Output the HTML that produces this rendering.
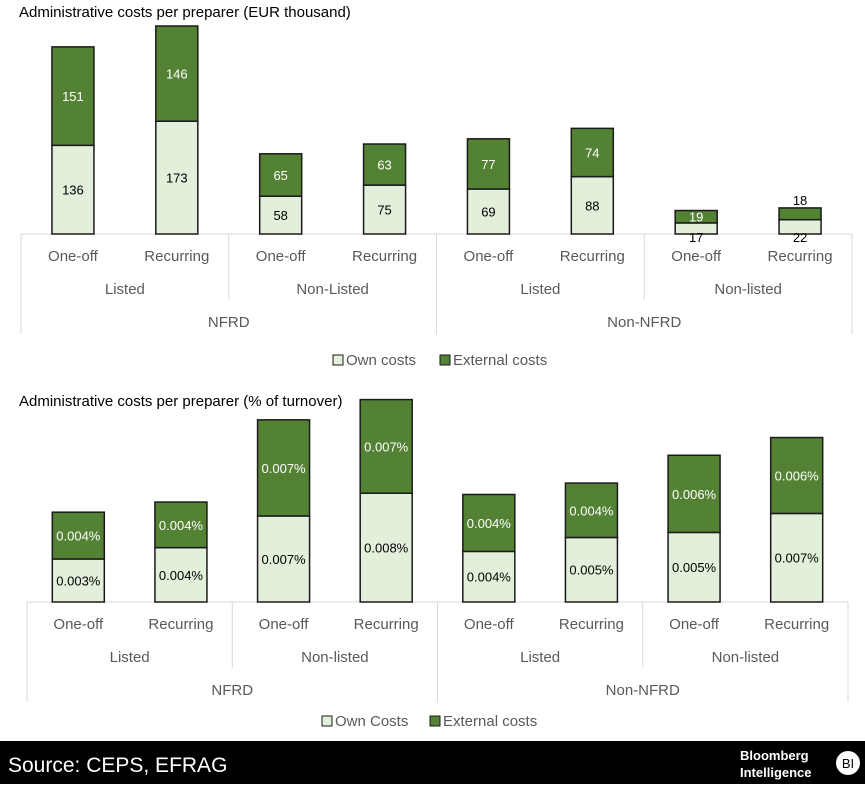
<!DOCTYPE html>
<html><head><meta charset="utf-8"><style>
body{margin:0;width:865px;height:784px;background:#fff;overflow:hidden;font-family:"Liberation Sans",sans-serif}
svg text{font-family:"Liberation Sans",sans-serif}
</style></head><body>
<svg id="s" width="865" height="784">
<text x="19" y="17" font-size="15" fill="#000">Administrative costs per preparer (EUR thousand)</text>
<text x="19" y="406" font-size="15" fill="#000">Administrative costs per preparer (% of turnover)</text>
<rect x="0" y="741" width="865" height="43" fill="#000"/>
<text x="8" y="772" font-size="21" fill="#fff">Source:  CEPS, EFRAG</text>
<text x="740" y="760" font-size="13" font-weight="bold" fill="#fff">Bloomberg</text>
<text x="740" y="777" font-size="13" font-weight="bold" fill="#fff">Intelligence</text>
<circle cx="848" cy="763" r="12" fill="#fff"/>
<text x="848" y="768" font-size="13" text-anchor="middle" fill="#000">BI</text>
</svg>
<script>
const topOwn=[136,173,58,75,69,88,17,22];
const topExt=[151,146,65,63,77,74,19,18];
const topOwnLabels=["136","173","58","75","69","88","17","22"];
const topExtLabels=["151","146","65","63","77","74","19","18"];
const botOwn=[0.0034,0.0043,0.0068,0.0086,0.0040,0.0051,0.0055,0.0070];
const botExt=[0.0037,0.0036,0.0076,0.0074,0.0045,0.0043,0.0061,0.0060];
const botOwnLabels=["0.003%","0.004%","0.007%","0.008%","0.004%","0.005%","0.005%","0.007%"];
const botExtLabels=["0.004%","0.004%","0.007%","0.007%","0.004%","0.004%","0.006%","0.006%"];
const cats=["One-off","Recurring","One-off","Recurring","One-off","Recurring","One-off","Recurring"];
const subTop=["Listed","Non-Listed","Listed","Non-listed"];
const subBot=["Listed","Non-listed","Listed","Non-listed"];
const groups=["NFRD","Non-NFRD"];
const svg=document.getElementById('s');
const NS="http://www.w3.org/2000/svg";
function mk(t,a,txt){const e=document.createElementNS(NS,t);for(const k in a)e.setAttribute(k,a[k]);if(txt!=null)e.textContent=txt;svg.appendChild(e);return e;}
function chart(o){
  const L=o.left,R=o.right,base=o.base,n=8,step=(R-L)/n;
  const x=i=>L+step*(i+0.5);
  const y=v=>base-v*o.scale;
  const grey="#d9d9d9";
  let e=mk('line',{x1:L,x2:R,y1:base,y2:base,stroke:grey});
  
  const bounds=[0,2,4,6,8];
  bounds.forEach(b=>{const xx=L+step*b;const y2=(b==0||b==4||b==8)?base+100:base+66;
    e=mk('line',{x1:xx,x2:xx,y1:base,y2:y2,stroke:grey});
    });
  for(let i=0;i<n;i++){
    const oy=y(o.own[i]),ey=y(o.own[i]+o.ext[i]);
    e=mk('rect',{x:x(i)-o.bw/2,y:oy,width:o.bw,height:base-oy,fill:"#e2efda",stroke:"#1a1a1a","stroke-width":1.5});
    
    e=mk('rect',{x:x(i)-o.bw/2,y:ey,width:o.bw,height:oy-ey,fill:"#548235",stroke:"#1a1a1a","stroke-width":1.5});
    
    let ly=(oy+base)/2+5; if(base-oy<20) ly=base+8;
    e=mk('text',{x:x(i),y:ly,"font-size":13,"text-anchor":"middle",fill:"#000"},o.ownL[i]);
    
    const small=(oy-ey<12);
    let ey2=(ey+oy)/2+5; if(small) ey2=ey-3;
    e=mk('text',{x:x(i),y:ey2,"font-size":13,"text-anchor":"middle",fill:small?"#000":"#fff"},o.extL[i]);
    
    e=mk('text',{x:x(i),y:base+27,"font-size":15,"text-anchor":"middle",fill:"#595959"},cats[i]);
    
  }
  for(let j=0;j<4;j++){e=mk('text',{x:L+step*(2*j+1),y:base+60,"font-size":15,"text-anchor":"middle",fill:"#595959"},o.sub[j]);
    }
  for(let j=0;j<2;j++){e=mk('text',{x:L+step*(4*j+2),y:base+93,"font-size":15,"text-anchor":"middle",fill:"#595959"},groups[j]);
    }
  const lx=o.legX,ly2=o.legY;
  e=mk('rect',{x:lx,y:ly2-10,width:10,height:10,fill:"#e2efda",stroke:"#1a1a1a"});
  
  e=mk('text',{x:lx+13,y:ly2,"font-size":15,fill:"#595959"},o.ownName);
  
  e=mk('rect',{x:o.legX2,y:ly2-10,width:10,height:10,fill:"#548235",stroke:"#1a1a1a"});
  
  e=mk('text',{x:o.legX2+13,y:ly2,"font-size":15,fill:"#595959"},"External costs");
  
}
chart({left:21,right:852,base:234,scale:0.652,bw:42,own:topOwn,ext:topExt,ownL:topOwnLabels,extL:topExtLabels,sub:subTop,legX:333,legX2:440,legY:365,ownName:"Own costs"});
chart({left:27,right:848,base:602,scale:12650,bw:52,own:botOwn,ext:botExt,ownL:botOwnLabels,extL:botExtLabels,sub:subBot,legX:322,legX2:430,legY:726,ownName:"Own Costs"});
</script>
</body></html>
